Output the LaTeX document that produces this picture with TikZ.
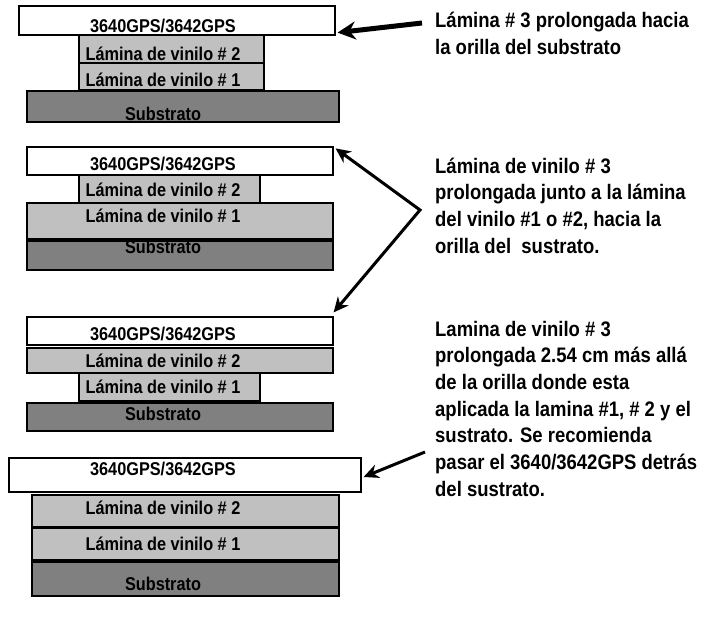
\documentclass[tikz,border=0pt]{standalone}
\usepackage{fontspec}
\setmainfont{Liberation Sans}[FakeStretch=0.88]
\usetikzlibrary{arrows.meta}
\definecolor{vinylgray}{RGB}{192,192,192}
\definecolor{subgray}{RGB}{128,128,128}
\begin{document}
\begin{tikzpicture}[x=1pt,y=-1pt,
  layer/.style={draw=black, line width=1.2pt, inner sep=0pt},
  film/.style={layer, fill=white},
  vinyl/.style={layer, fill=vinylgray},
  subs/.style={layer, fill=subgray},
  lbl/.style={font=\bfseries\fontsize{18.5}{20}\selectfont, anchor=base, inner sep=0pt},
  note/.style={font=\bfseries\fontsize{21}{26.7}\selectfont, anchor=base west, align=left, inner sep=0pt},
  arr/.style={-{Stealth[length=15pt,width=14pt]}, line width=3pt}]
\useasboundingbox (0,0) rectangle (707,618);
% group 1
\node[subs,  minimum width=312, minimum height=31] (s1) at (183,106.5) {};
\node[vinyl, minimum width=185, minimum height=27] (vb1) at (171.5,76.5) {};
\node[vinyl, minimum width=185, minimum height=28] (va1) at (171.5,49) {};
\node[film,  minimum width=316, minimum height=29] (w1) at (177,20.5) {};
\node[lbl] (tw1) at (163,33) {3640GPS/3642GPS};
\node[lbl] (ta1) at (163,60) {Lámina de vinilo \# 2};
\node[lbl] (tb1) at (163,86) {Lámina de vinilo \# 1};
\node[lbl] (ts1) at (163,120) {Substrato};
% group 2
\node[subs,  minimum width=306, minimum height=29] (s2) at (180,255.5) {};
\node[vinyl, minimum width=306, minimum height=36] (vb2) at (180,221) {};
\node[vinyl, minimum width=181, minimum height=28] (va2) at (169.5,189) {};
\node[film,  minimum width=306, minimum height=28] (w2) at (180,161) {};
\node[lbl] (tw2) at (163,170) {3640GPS/3642GPS};
\node[lbl] (ta2) at (163,196) {Lámina de vinilo \# 2};
\node[lbl] (tb2) at (163,222) {Lámina de vinilo \# 1};
\node[lbl] (ts2) at (163,253) {Substrato};
% group 3
\node[subs,  minimum width=306, minimum height=28] (s3) at (180,417) {};
\node[vinyl, minimum width=181, minimum height=28] (vb3) at (169.5,387) {};
\node[vinyl, minimum width=306, minimum height=25] (va3) at (180,360.5) {};
\node[film,  minimum width=306, minimum height=28] (w3) at (180,331) {};
\node[lbl] (tw3) at (163,340) {3640GPS/3642GPS};
\node[lbl] (ta3) at (163,367) {Lámina de vinilo \# 2};
\node[lbl] (tb3) at (163,393) {Lámina de vinilo \# 1};
\node[lbl] (ts3) at (163,420) {Substrato};
% group 4
\node[subs,  minimum width=307, minimum height=34] (s4) at (185.5,579) {};
\node[vinyl, minimum width=307, minimum height=32] (vb4) at (185.5,544) {};
\node[vinyl, minimum width=307, minimum height=32] (va4) at (185.5,511) {};
\node[film,  minimum width=352, minimum height=34] (w4) at (185,475) {};
\node[lbl] (tw4) at (163,475) {3640GPS/3642GPS};
\node[lbl] (ta4) at (163,514) {Lámina de vinilo \# 2};
\node[lbl] (tb4) at (163,550) {Lámina de vinilo \# 1};
\node[lbl] (ts4) at (163,590) {Substrato};
% notes (anchor = baseline of last line)
\node[note] (n1) at (435,54.7) {Lámina \# 3 prolongada hacia\\la orilla del substrato};
\node[note] (n2) at (435,253.1) {Lámina de vinilo \# 3\\prolongada junto a la lámina\\del vinilo \#1 o \#2, hacia la\\orilla del\ \ sustrato.};
\node[note] (n3) at (435,496.2) {Lamina de vinilo \# 3\\prolongada 2.54 cm más allá\\de la orilla donde esta\\aplicada la lamina \#1, \# 2 y el\\sustrato. Se recomienda\\pasar el 3640/3642GPS detrás\\del sustrato.};
% arrows
\coordinate (a1) at (422,23);
\coordinate (v) at (420,210);
\coordinate (a3) at (425,452);
\draw[-{Stealth[length=18pt,width=18pt]}, line width=5pt] (a1) -- ([shift={(2,-3)}]w1.south east);
\draw[{Stealth[length=15pt,width=14pt]}-{Stealth[length=15pt,width=14pt]}, line width=3pt, line join=miter]
  ([shift={(2,2)}]w2.north east) -- (v) -- ([shift={(0,-4)}]w3.north east);
\draw[arr] (a3) -- ([shift={(2,2)}]w4.east);
\end{tikzpicture}
\end{document}
